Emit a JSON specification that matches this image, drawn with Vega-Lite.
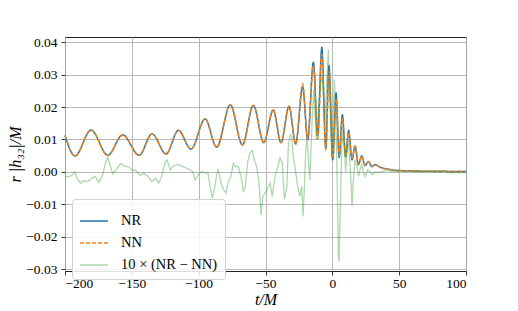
{
  "$schema": "https://vega.github.io/schema/vega-lite/v6.json",
  "autosize": "none",
  "width": 401,
  "height": 234,
  "padding": {"left": 65, "top": 37, "right": 52, "bottom": 40},
  "background": "white",
  "config": {
    "font": "Liberation Serif, DejaVu Serif, serif",
    "view": {"stroke": "#222", "strokeWidth": 1},
    "axis": {
      "grid": true, "gridColor": "#b0b0b0", "gridWidth": 0.9,
      "domain": false, "tickColor": "#222", "tickSize": 4, "tickWidth": 0.9,
      "labelFontSize": 13.5, "labelColor": "black", "labelFont": "Liberation Serif, DejaVu Serif, serif",
      "titleFontSize": 16, "titleFontStyle": "italic", "titleFontWeight": "normal",
      "titleColor": "black", "titleFont": "Liberation Serif, DejaVu Serif, serif"
    },
    "legend": {
      "orient": "none", "legendX": 7, "legendY": 162,
      "strokeColor": "#d0d0d0", "fillColor": "rgba(255,255,255,0.85)", "cornerRadius": 3,
      "padding": 7, "labelFontSize": 14.5, "labelFont": "Liberation Serif, DejaVu Serif, serif", "labelColor": "black",
      "symbolType": "stroke", "symbolSize": 784, "symbolStrokeWidth": 1.5,
      "rowPadding": -9, "labelOffset": 12, "labelLimit": 300
    }
  },
  "data": {"values": [
    {"s":"NR","t":-200,"v":0.0112},{"s":"NR","t":-192.5,"v":0.0049},{"s":"NR","t":-180.5,"v":0.0129},{"s":"NR","t":-168,"v":0.0051},
    {"s":"NR","t":-156.8,"v":0.0114},{"s":"NR","t":-144.6,"v":0.0051},{"s":"NR","t":-134.9,"v":0.0117},{"s":"NR","t":-124.4,"v":0.0055},
    {"s":"NR","t":-115.2,"v":0.0128},{"s":"NR","t":-105.7,"v":0.007},{"s":"NR","t":-95.2,"v":0.0163},{"s":"NR","t":-86.5,"v":0.0076},
    {"s":"NR","t":-76.3,"v":0.0207},{"s":"NR","t":-67.3,"v":0.0083},{"s":"NR","t":-59.1,"v":0.0205},{"s":"NR","t":-51.3,"v":0.009},
    {"s":"NR","t":-44.2,"v":0.0191},{"s":"NR","t":-38.4,"v":0.009},{"s":"NR","t":-32.4,"v":0.0202},{"s":"NR","t":-27.4,"v":0.0086},
    {"s":"NR","t":-22.2,"v":0.0262},{"s":"NR","t":-18.4,"v":0.0099},{"s":"NR","t":-14.2,"v":0.0338},{"s":"NR","t":-10.9,"v":0.0112},
    {"s":"NR","t":-7.9,"v":0.0384},{"s":"NR","t":-4.9,"v":0.0073},{"s":"NR","t":-2.5,"v":0.0328},{"s":"NR","t":0.3,"v":0.0037},
    {"s":"NR","t":2.8,"v":0.0243},{"s":"NR","t":5.1,"v":0.0044},{"s":"NR","t":7.5,"v":0.0176},{"s":"NR","t":10,"v":0.0047},
    {"s":"NR","t":12.2,"v":0.0128},{"s":"NR","t":14.7,"v":0.0037},{"s":"NR","t":17,"v":0.008},{"s":"NR","t":19.5,"v":0.0022},
    {"s":"NR","t":22,"v":0.0049},{"s":"NR","t":24.5,"v":0.0019},{"s":"NR","t":27,"v":0.0032},{"s":"NR","t":29.5,"v":0.0016},
    {"s":"NR","t":32,"v":0.0022},{"s":"NR","t":35,"v":0.0016},{"s":"NR","t":38,"v":0.0011},{"s":"NR","t":42,"v":0.0008},
    {"s":"NR","t":46,"v":0.0005},{"s":"NR","t":50,"v":0.0004},{"s":"NR","t":60,"v":0.0003},{"s":"NR","t":70,"v":0.0002},
    {"s":"NR","t":80,"v":0.0002},{"s":"NR","t":90,"v":0.0001},{"s":"NR","t":100,"v":0.0001},

    {"s":"NN","t":-200,"v":0.0112},{"s":"NN","t":-192.5,"v":0.0049},{"s":"NN","t":-180.5,"v":0.0129},{"s":"NN","t":-168,"v":0.0051},
    {"s":"NN","t":-156.8,"v":0.0114},{"s":"NN","t":-144.6,"v":0.0051},{"s":"NN","t":-134.9,"v":0.0117},{"s":"NN","t":-124.4,"v":0.0055},
    {"s":"NN","t":-115.2,"v":0.0128},{"s":"NN","t":-105.7,"v":0.007},{"s":"NN","t":-95.2,"v":0.0163},{"s":"NN","t":-86.5,"v":0.0076},
    {"s":"NN","t":-76.3,"v":0.0207},{"s":"NN","t":-67.3,"v":0.0083},{"s":"NN","t":-59.1,"v":0.0205},{"s":"NN","t":-51.3,"v":0.009},
    {"s":"NN","t":-44.2,"v":0.0191},{"s":"NN","t":-38.4,"v":0.009},{"s":"NN","t":-32.4,"v":0.0202},{"s":"NN","t":-27.4,"v":0.0086},
    {"s":"NN","t":-22.2,"v":0.0272},{"s":"NN","t":-18.4,"v":0.0099},{"s":"NN","t":-14.2,"v":0.0328},{"s":"NN","t":-10.9,"v":0.0102},
    {"s":"NN","t":-7.9,"v":0.0362},{"s":"NN","t":-4.9,"v":0.0068},{"s":"NN","t":-2.5,"v":0.031},{"s":"NN","t":0.3,"v":0.0042},
    {"s":"NN","t":2.8,"v":0.0226},{"s":"NN","t":5.1,"v":0.005},{"s":"NN","t":7.5,"v":0.0166},{"s":"NN","t":10,"v":0.0048},
    {"s":"NN","t":12.2,"v":0.0122},{"s":"NN","t":14.7,"v":0.0042},{"s":"NN","t":17,"v":0.0078},{"s":"NN","t":19.5,"v":0.0024},
    {"s":"NN","t":22,"v":0.0048},{"s":"NN","t":24.5,"v":0.002},{"s":"NN","t":27,"v":0.0031},{"s":"NN","t":29.5,"v":0.0017},
    {"s":"NN","t":32,"v":0.0022},{"s":"NN","t":35,"v":0.0016},{"s":"NN","t":38,"v":0.0011},{"s":"NN","t":42,"v":0.0008},
    {"s":"NN","t":46,"v":0.0005},{"s":"NN","t":50,"v":0.0004},{"s":"NN","t":60,"v":0.0003},{"s":"NN","t":70,"v":0.0002},
    {"s":"NN","t":80,"v":0.0002},{"s":"NN","t":90,"v":0.0001},{"s":"NN","t":100,"v":0.0001},

    {"s":"D","t":-200,"v":-0.0016},{"s":"D","t":-197.5,"v":-0.0015},{"s":"D","t":-195,"v":-0.0012},{"s":"D","t":-192.7,"v":0.0001},
    {"s":"D","t":-191,"v":-0.002},{"s":"D","t":-188.5,"v":-0.0035},{"s":"D","t":-186,"v":-0.0027},{"s":"D","t":-183.5,"v":-0.003},
    {"s":"D","t":-181.5,"v":-0.0025},{"s":"D","t":-179.8,"v":-0.002},{"s":"D","t":-177.3,"v":-0.0014},{"s":"D","t":-174.8,"v":-0.0033},
    {"s":"D","t":-171.8,"v":-0.001},{"s":"D","t":-169.8,"v":0.0027},{"s":"D","t":-168,"v":0.0045},{"s":"D","t":-166,"v":0.0017},
    {"s":"D","t":-164.3,"v":-0.0006},{"s":"D","t":-161,"v":0.0011},{"s":"D","t":-158.6,"v":0.0025},{"s":"D","t":-156,"v":0.0019},
    {"s":"D","t":-152.3,"v":0.0015},{"s":"D","t":-149.8,"v":0.0004},{"s":"D","t":-147.4,"v":0.0006},{"s":"D","t":-143.6,"v":-0.0012},
    {"s":"D","t":-141.1,"v":-0.0004},{"s":"D","t":-137.9,"v":-0.0014},{"s":"D","t":-134.9,"v":-0.003},{"s":"D","t":-132.4,"v":-0.002},
    {"s":"D","t":-129.9,"v":-0.0035},{"s":"D","t":-127.4,"v":-0.001},{"s":"D","t":-124.9,"v":0.0032},{"s":"D","t":-123.7,"v":0.0037},
    {"s":"D","t":-121.2,"v":0.0006},{"s":"D","t":-118.7,"v":0.0019},{"s":"D","t":-114.9,"v":0.0022},{"s":"D","t":-111.2,"v":0.0015},
    {"s":"D","t":-107.4,"v":0.0008},{"s":"D","t":-104.4,"v":0.0001},{"s":"D","t":-102.7,"v":-0.0025},{"s":"D","t":-100.2,"v":-0.0009},
    {"s":"D","t":-97.7,"v":0.0001},{"s":"D","t":-95.2,"v":-0.0004},{"s":"D","t":-93.2,"v":-0.0002},{"s":"D","t":-91.5,"v":-0.0045},
    {"s":"D","t":-89.8,"v":-0.0081},{"s":"D","t":-88.3,"v":-0.0055},{"s":"D","t":-86.5,"v":-0.0009},{"s":"D","t":-85.3,"v":0.0008},
    {"s":"D","t":-83.3,"v":-0.0035},{"s":"D","t":-81.5,"v":-0.0055},{"s":"D","t":-79.7,"v":-0.0066},{"s":"D","t":-77.8,"v":-0.003},
    {"s":"D","t":-75.8,"v":-0.0014},{"s":"D","t":-74.1,"v":0.0027},{"s":"D","t":-72.3,"v":0.0016},{"s":"D","t":-70.3,"v":0.0016},
    {"s":"D","t":-67.8,"v":-0.0025},{"s":"D","t":-66.6,"v":-0.006},{"s":"D","t":-65.3,"v":-0.005},{"s":"D","t":-63.3,"v":0.0032},
    {"s":"D","t":-61.6,"v":0.0058},{"s":"D","t":-59.8,"v":0.0066},{"s":"D","t":-58.4,"v":0.0037},{"s":"D","t":-56.6,"v":0.0016},
    {"s":"D","t":-54.8,"v":-0.0035},{"s":"D","t":-53.3,"v":-0.0133},{"s":"D","t":-52.1,"v":-0.0076},{"s":"D","t":-50.3,"v":-0.0066},
    {"s":"D","t":-48.3,"v":-0.005},{"s":"D","t":-46.6,"v":-0.0035},{"s":"D","t":-44.9,"v":-0.0076},{"s":"D","t":-42.9,"v":-0.0014},
    {"s":"D","t":-40.8,"v":0.0016},{"s":"D","t":-39.1,"v":0.0042},{"s":"D","t":-37.4,"v":0.0027},{"s":"D","t":-35.9,"v":-0.0086},
    {"s":"D","t":-34.1,"v":-0.005},{"s":"D","t":-32.9,"v":0.0078},{"s":"D","t":-31.6,"v":0.0114},{"s":"D","t":-30.4,"v":0.011},
    {"s":"D","t":-29.2,"v":0.0047},{"s":"D","t":-27.9,"v":0.0011},{"s":"D","t":-25.9,"v":-0.0045},{"s":"D","t":-24.2,"v":-0.0076},
    {"s":"D","t":-22.9,"v":-0.0045},{"s":"D","t":-21.9,"v":-0.0138},{"s":"D","t":-20.9,"v":-0.005},{"s":"D","t":-19.9,"v":0.0068},
    {"s":"D","t":-18.9,"v":0.0099},{"s":"D","t":-18,"v":0.0047},{"s":"D","t":-16.9,"v":-0.0025},{"s":"D","t":-15.9,"v":0.0068},
    {"s":"D","t":-15,"v":0.0171},{"s":"D","t":-13.9,"v":0.0253},{"s":"D","t":-12.9,"v":0.0171},{"s":"D","t":-12,"v":0.0099},
    {"s":"D","t":-10.9,"v":0.016},{"s":"D","t":-9.9,"v":0.0222},{"s":"D","t":-9,"v":0.027},{"s":"D","t":-7.9,"v":0.0294},
    {"s":"D","t":-6.7,"v":0.024},{"s":"D","t":-5.5,"v":0.015},{"s":"D","t":-4.2,"v":0.027},{"s":"D","t":-3,"v":0.0377},
    {"s":"D","t":-1.7,"v":0.0202},{"s":"D","t":-0.4,"v":0.0047},{"s":"D","t":0.7,"v":0.016},{"s":"D","t":1.5,"v":0.0284},
    {"s":"D","t":2.5,"v":0.019},{"s":"D","t":3.5,"v":0.0},{"s":"D","t":4.5,"v":-0.0251},{"s":"D","t":5,"v":-0.0277},
    {"s":"D","t":6,"v":-0.01},{"s":"D","t":7,"v":0.0068},{"s":"D","t":8,"v":0.014},{"s":"D","t":9,"v":0.0068},
    {"s":"D","t":10,"v":0.0},{"s":"D","t":11,"v":0.0068},{"s":"D","t":12,"v":0.0099},{"s":"D","t":13,"v":0.0037},
    {"s":"D","t":14,"v":-0.0035},{"s":"D","t":14.7,"v":-0.0105},{"s":"D","t":15.7,"v":-0.0025},{"s":"D","t":17,"v":0.0037},
    {"s":"D","t":18.5,"v":0.0016},{"s":"D","t":19.5,"v":-0.0014},{"s":"D","t":20.7,"v":0.0006},{"s":"D","t":22,"v":0.0022},
    {"s":"D","t":23.2,"v":0.0},{"s":"D","t":24.5,"v":-0.0014},{"s":"D","t":26.5,"v":0.0006},{"s":"D","t":28.2,"v":0.0},
    {"s":"D","t":29.9,"v":-0.0009},{"s":"D","t":32,"v":0.0},{"s":"D","t":34.4,"v":-0.0002},{"s":"D","t":37,"v":0.0},
    {"s":"D","t":40,"v":0.0003},{"s":"D","t":45,"v":0.0002},{"s":"D","t":50,"v":0.0001},{"s":"D","t":55,"v":0.0002},
    {"s":"D","t":60,"v":0.0001},{"s":"D","t":65,"v":0.0},{"s":"D","t":70,"v":0.0001},{"s":"D","t":75,"v":0.0},
    {"s":"D","t":80,"v":-0.0001},{"s":"D","t":85,"v":0.0},{"s":"D","t":90,"v":-0.0003},{"s":"D","t":93,"v":0.0},
    {"s":"D","t":95,"v":-0.0004},{"s":"D","t":97,"v":-0.0001},{"s":"D","t":100,"v":-0.0002}
  ]},
  "encoding": {
    "x": {"field": "t", "type": "quantitative",
      "scale": {"domain": [-200, 100], "nice": false, "zero": false},
      "axis": {"values": [-200, -150, -100, -50, 0, 50, 100], "title": "t/M", "titlePadding": 2, "labelPadding": 1}},
    "y": {"field": "v", "type": "quantitative",
      "scale": {"domain": [-0.0306, 0.0416], "nice": false, "zero": false},
      "axis": {"values": [-0.03, -0.02, -0.01, 0, 0.01, 0.02, 0.03, 0.04], "format": ".2f", "title": "r |h₃₂|/M", "titlePadding": 2, "labelPadding": 4}},
    "color": {"field": "s", "type": "nominal",
      "scale": {"domain": ["NR", "NN", "D"], "range": ["#1f77b4", "#ff7f0e", "#2ca02c"]},
      "legend": {"title": null,
        "labelExpr": "datum.label == 'D' ? '10 × (NR − NN)' : datum.label",
        "encode": {"symbols": {"update": {"opacity": {"signal": "datum.value == 'D' ? 0.4 : 1"}}}}}},
    "strokeDash": {"field": "s", "type": "nominal",
      "scale": {"domain": ["NR", "NN", "D"], "range": [[1, 0], [4, 2], [1, 0]]},
      "legend": {"title": null,
        "labelExpr": "datum.label == 'D' ? '10 × (NR − NN)' : datum.label",
        "encode": {"symbols": {"update": {"opacity": {"signal": "datum.value == 'D' ? 0.4 : 1"}}}}}}
  },
  "layer": [
    {"transform": [{"filter": "datum.s != 'D'"}],
     "mark": {"type": "line", "interpolate": "monotone", "strokeWidth": 1.5}},
    {"transform": [{"filter": "datum.s == 'D'"}],
     "mark": {"type": "line", "strokeWidth": 1.3, "strokeOpacity": 0.4}}
  ]
}
